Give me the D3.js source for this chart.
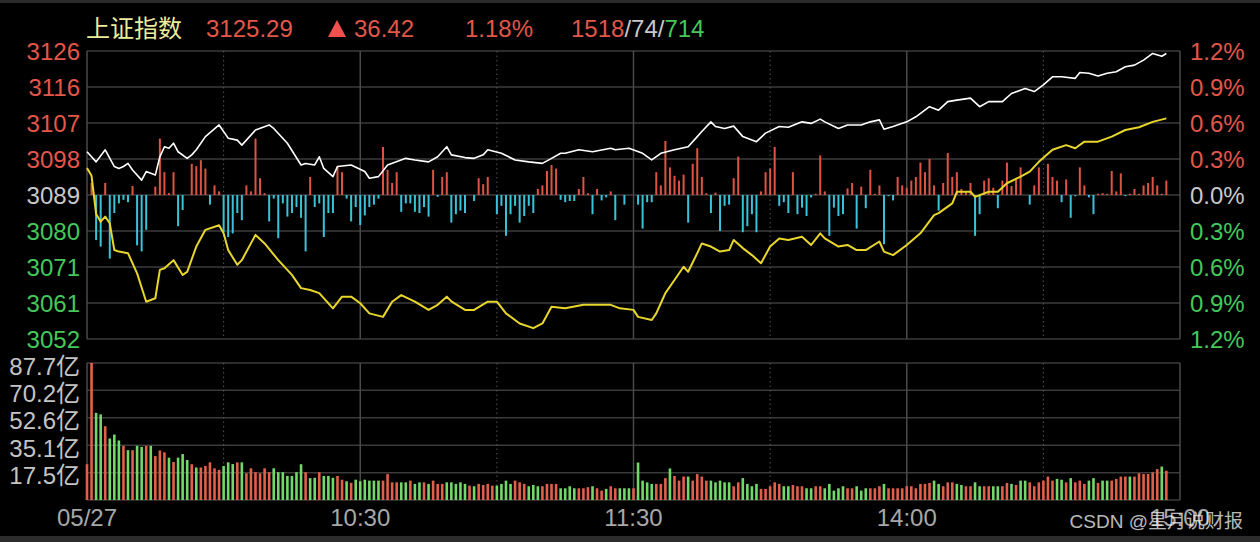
<!DOCTYPE html>
<html>
<head>
<meta charset="utf-8">
<script src="https://cdn.jsdelivr.net/npm/d3@7"></script>
<style>
  html, body { margin: 0; padding: 0; background: #000; }
  #main-vis { width: 1260px; height: 542px; }
  text { font-family: "Liberation Sans", Arial, "Noto Sans CJK SC", sans-serif; }
</style>
</head>
<body>
<div id="main-vis"></div>
<script>
// header numbers
const indexName = '上证指数'
const lastPrice = '3125.29'
const changeAbs = '36.42'
const changePct = '1.18%'
const upCount = '1518'
const flatCount = '74'
const downCount = '714'
const preClose = 3088.87

// axes
const pctTicks = [1.2, 0.9, 0.6, 0.3, 0, -0.3, -0.6, -0.9, -1.2]
const priceLabels = ['3126', '3116', '3107', '3098', '3089', '3080', '3071', '3061', '3052']
const pctLabels = ['1.2%', '0.9%', '0.6%', '0.3%', '0.0%', '0.3%', '0.6%', '0.9%', '1.2%']
const volTicks = [87.7, 70.2, 52.6, 35.1, 17.5]
const volLabels = ['87.7亿', '70.2亿', '52.6亿', '35.1亿', '17.5亿']
const timeTicks = [0, 60, 120, 180, 240]
const timeLabels = ['05/27', '10:30', '11:30', '14:00', '15:00']
const solidMinutes = [60, 120, 180]
const dottedMinutes = [30, 90, 150, 210]

// index line (white): minute since 9:30, price
const priceMinute = [0,1,2,4,6,7,8,9,10,12,13,15,16,17,18,19,20,22,23,24,26,29,31,33,34,37,40,41,44,47,48,50,51,52,54,55,58,61,62,64,66,70,72,75,77,79,80,83,85,87,88,91,94,97,100,102,104,105,108,111,115,116,119,122,124,126,129,132,134,135,137,138,140,142,144,147,149,152,154,157,159,161,162,165,167,170,172,174,175,177,180,182,185,187,189,191,194,196,198,201,203,206,208,210,212,214,217,218,220,222,224,226,228,230,232,234,236,237]
const priceValue = [3100.0,3098.7,3097.4,3100.5,3096.2,3095.7,3096.2,3097.0,3095.3,3092.7,3094.9,3094.0,3098.7,3101.3,3100.9,3102.2,3100.0,3098.3,3099.2,3100.5,3103.9,3106.9,3103.5,3103.0,3101.7,3105.6,3106.9,3106.0,3102.2,3096.6,3097.0,3096.6,3098.7,3095.7,3093.6,3096.2,3096.6,3094.9,3093.2,3093.6,3096.6,3098.3,3097.9,3097.4,3098.7,3101.3,3099.2,3098.5,3098.3,3099.2,3100.5,3099.6,3097.9,3097.4,3097.0,3098.3,3099.6,3099.6,3100.5,3100.0,3100.9,3100.5,3100.9,3099.6,3097.9,3099.6,3100.5,3101.3,3103.9,3105.2,3107.7,3106.5,3106.0,3106.6,3103.9,3102.6,3104.8,3106.5,3106.3,3107.7,3107.3,3108.4,3107.7,3106.0,3106.9,3106.9,3107.7,3108.2,3105.8,3106.5,3107.7,3109.0,3111.6,3110.7,3112.9,3113.3,3113.8,3111.6,3112.9,3112.9,3115.0,3116.3,3115.5,3117.2,3119.3,3119.3,3118.9,3120.4,3120.2,3119.5,3120.2,3120.6,3121.9,3122.3,3123.6,3125.3,3124.6,3125.29]

// unweighted line (yellow)
const avgMinute = [0,1,2,3,4,5,6,7,9,11,13,15,16,17,19,21,22,24,26,29,30,31,33,34,37,39,42,45,47,49,51,54,56,58,60,62,65,67,69,72,75,77,79,80,83,85,88,90,92,95,98,100,102,105,109,112,115,117,120,121,124,125,126,127,129,131,132,134,135,137,139,141,142,144,146,148,150,152,154,157,159,161,162,165,167,169,171,174,175,177,180,183,186,187,190,191,194,195,198,200,202,205,207,209,212,215,217,219,222,225,228,231,234,237]
const avgValue = [3095.8,3093.8,3084.0,3082.0,3083.3,3081.6,3074.7,3074.3,3073.9,3068.7,3061.4,3062.3,3069.6,3070.0,3072.1,3068.3,3069.1,3075.6,3079.9,3081.1,3079.0,3074.7,3070.9,3072.1,3078.6,3076.4,3072.1,3068.3,3064.9,3064.4,3063.6,3059.7,3062.7,3062.7,3061.0,3058.4,3057.5,3061.4,3063.1,3061.4,3059.3,3060.6,3062.7,3061.5,3059.3,3059.3,3061.4,3061.4,3058.4,3055.8,3054.6,3055.8,3060.1,3059.7,3060.6,3060.6,3060.6,3059.7,3059.3,3057.5,3056.7,3058.4,3061.0,3063.6,3067.0,3070.4,3069.1,3073.9,3076.4,3075.6,3074.3,3074.7,3077.3,3075.2,3073.4,3071.3,3075.6,3077.7,3077.3,3078.1,3076.0,3079.0,3077.7,3075.6,3076.0,3074.7,3074.7,3076.9,3074.3,3073.4,3076.0,3079.0,3083.7,3084.2,3086.7,3089.7,3089.7,3088.4,3089.7,3089.7,3091.9,3093.6,3094.9,3097.4,3100.5,3101.7,3100.9,3102.6,3102.6,3103.9,3105.6,3106.3,3107.7,3108.6]

// buy/sell strength bars per minute (100 = height of 1%)
const power = [0,10,-37.5,-43,10,-53,-15,-7,-4,-6,7.5,-42,-47,-29,0,7,47,19,1.5,19,-26,-12.5,0,26,24,29,22,-8,8,3,
  -31,-35,-32,-15,-21,8,3,47,14,1.5,-22,-3,-36,-7,-18,-15,-10,-19,-47,15,-10,-7,-35,-15,-15,24,19,-3,-22,-10,
  -25,-17,-10,-8,-3,40,21,10,19,-14,-7,-7,-14,-15,-10,-18,21,-1.5,15,19,-23,-16,-13,-15,0,-5,14,9,15,0,
  -16,-9,-34,-16,-9,-23,-17.5,-9,-15,5,8,20,25,22,-4,-6,-5,-5,5,15,1.5,-16,5,-4.5,-2,3,-21,0,-8,0,
  0,-8,-28,-6,-6,19,8,45,23,16,12,17,-23,26,39,15,1.5,-15,2,-30,-9,-8,14,32,-31,-26,-16,-31,3,19,
  22,40,-9,-6,-15,19,-16,-10.5,-17.5,-2,1,33,3,-34,-10.5,-17.5,-16,5.5,10,-28,7,-11,21,1,8,-41,-1,-4.5,15,8,
  6,12,15,27,19,30,8,-13,10,35,15,19,5,3,10,-34,-16,12,14,6,-11,12,27,7.5,13,23,0,-8,8,23,
  0,26,15,12,-6,13,-19,-1,23,8,-2,-16,1,1.5,1,20,3,18,-1,1,5,1,8,10,15,8,1,12]

// turnover per minute, 亿
const volume = [22.9,87.7,55.8,54.8,47.2,39.4,41.9,38.1,34.7,31.9,31.9,34.7,34.0,34.7,34.7,28.1,31.7,30.5,27.1,24.3,
  27.1,29.4,25.6,22.9,20.8,20.8,21.8,24.1,20.3,19.3,21.8,24.1,23.0,24.1,24.1,17.1,20.3,17.8,17.1,20.3,
  17.8,20.3,17.8,17.8,15.4,15.4,17.8,22.9,17.8,14.0,14.2,17.8,15.4,15.4,14.2,15.4,13.0,12.0,11.0,13.0,
  12.0,13.0,12.4,12.4,12.4,12.4,16.6,11.3,11.3,11.3,11.3,12.4,10.3,11.3,11.3,10.3,12.4,10.3,10.3,11.3,
  11.3,10.3,11.3,10.3,9.2,8.8,10.3,9.6,10.3,9.2,9.2,10.3,12.4,10.3,12.4,11.3,10.3,8.8,9.6,8.8,
  8.8,10.3,10.3,10.3,7.5,7.5,8.8,7.5,7.5,7.5,8.2,8.8,7.5,6.0,7.1,8.8,7.5,7.5,7.5,7.5,
  7.5,24.0,12.4,11.3,10.3,10.3,10.3,14.0,20.2,15.4,12.4,15.0,15.0,12.4,16.6,15.0,12.4,12.4,11.3,12.4,
  11.3,11.3,8.8,11.3,14.0,10.3,8.8,10.3,7.1,7.1,8.8,11.3,10.3,8.8,8.8,9.6,8.8,8.8,7.5,7.5,
  8.8,8.8,7.5,10.3,6.0,7.5,8.8,7.5,7.5,8.8,6.0,7.5,7.5,7.5,8.8,10.3,7.5,7.5,7.5,7.5,
  8.8,8.8,7.5,10.3,10.3,10.9,12.4,10.3,8.8,11.3,11.3,10.3,9.6,8.8,8.8,11.3,8.8,8.8,8.8,8.8,
  8.8,8.8,10.9,10.3,9.6,12.4,12.4,11.3,8.8,11.3,12.4,15.0,12.4,13.5,13.0,11.3,14.0,11.3,12.4,10.3,
  12.4,14.0,10.9,12.4,12.4,12.4,13.5,15.0,15.0,15.0,15.0,17.1,16.6,16.6,17.7,19.8,21.4,18.7]
// 1 = red (up minute), 0 = green
const volUp = [1,1,0,0,1,0,0,0,1,0,1,0,0,1,0,1,1,1,0,1,0,0,0,1,0,1,1,1,1,1,0,0,0,1,0,1,1,1,1,1,
  1,0,0,0,0,0,0,0,1,0,0,1,0,0,0,1,1,0,1,0,0,0,0,0,0,1,1,1,1,0,0,1,0,0,1,0,1,1,1,0,
  0,0,0,0,1,0,1,1,1,1,0,0,0,0,1,1,1,0,0,0,1,1,1,1,0,0,0,0,1,1,1,0,1,1,0,1,1,0,0,0,
  1,0,0,0,0,1,1,1,0,1,1,1,0,1,1,1,1,0,0,0,0,0,1,1,0,0,0,0,1,1,1,1,1,0,0,1,1,1,0,0,
  1,1,0,0,0,0,0,1,1,0,0,0,1,1,1,0,1,1,1,1,1,1,1,1,1,1,0,0,1,1,1,0,0,1,1,0,0,1,1,0,
  0,1,1,0,1,0,0,1,1,1,1,1,1,0,0,1,0,1,1,1,0,0,1,0,0,1,1,1,1,0,1,1,1,1,1,1,0,1]

window.onload = setup

function setup () {
    const div = d3.select('#main-vis')
    const left = 87, right = 1180

    const red = '#e2574a', green = '#45c85a', grey = '#c9c9c9'

    const svg = d3.create('svg')
        .attr('width', 1260)
        .attr('height', 542)
        .style('display', 'block')
        .style('background', '#000')

    const x = d3.scaleLinear().domain([0, 240]).range([left, right])
    const yPct = d3.scaleLinear().domain([-1.2, 1.2]).range([339, 51])
    const yPrice = v => yPct((v / preClose - 1) * 100)
    const yPow = d3.scaleLinear().domain([-120, 120]).range([339, 51])
    const yVol = d3.scaleLinear().domain([0, 87.7]).range([500, 363])

    // frame bands top/bottom
    svg.append('rect').attr('x', 0).attr('y', 0).attr('width', 1260).attr('height', 3).attr('fill', '#2a2a2a')
    svg.append('rect').attr('x', 0).attr('y', 536).attr('width', 1260).attr('height', 6).attr('fill', '#2c2c2c')

    const grid = svg.append('g').attr('stroke', '#3b3b3b').attr('stroke-width', 1.5)
    grid.selectAll('.hp').data(pctTicks).join('line')
        .attr('x1', left).attr('x2', right)
        .attr('y1', d => yPct(d)).attr('y2', d => yPct(d))
    grid.selectAll('.hv').data([0].concat(volTicks)).join('line')
        .attr('x1', left).attr('x2', right)
        .attr('y1', d => yVol(d)).attr('y2', d => yVol(d))

    // vertical lines through both panels
    const panels = [[yPct(1.2), yPct(-1.2)], [yVol(87.7), yVol(0)]]
    panels.forEach(([y0, y1]) => {
        svg.append('g').attr('stroke', '#4a4a4a').attr('stroke-width', 1.5)
            .selectAll('line').data([0, 240].concat(solidMinutes)).join('line')
            .attr('x1', d => x(d)).attr('x2', d => x(d)).attr('y1', y0).attr('y2', y1)
        svg.append('g').attr('stroke', '#555').attr('stroke-width', 1).attr('stroke-dasharray', '1.5,3')
            .selectAll('line').data(dottedMinutes).join('line')
            .attr('x1', d => x(d)).attr('x2', d => x(d)).attr('y1', y0).attr('y2', y1)
    })

    // strength bars
    svg.append('g').selectAll('rect').data(power).join('rect')
        .attr('x', (d, i) => x(i) - 1)
        .attr('width', 2)
        .attr('y', d => yPow(Math.max(0, d)))
        .attr('height', d => Math.abs(yPow(d) - yPow(0)))
        .attr('fill', d => d >= 0 ? '#dd5443' : '#38c3d8')

    // volume bars
    svg.append('g').selectAll('rect').data(volume).join('rect')
        .attr('x', (d, i) => x(i) - 1.3)
        .attr('width', 2.6)
        .attr('y', d => yVol(d))
        .attr('height', d => yVol(0) - yVol(d))
        .attr('fill', (d, i) => volUp[i] ? '#e0604b' : '#72d86a')

    const line = d3.line().x(d => x(d[0])).y(d => yPrice(d[1]))
    svg.append('path')
        .attr('d', line(d3.zip(avgMinute, avgValue)))
        .attr('fill', 'none').attr('stroke', '#e8d62c').attr('stroke-width', 2)
        .attr('stroke-linejoin', 'round')
    svg.append('path')
        .attr('d', line(d3.zip(priceMinute, priceValue)))
        .attr('fill', 'none').attr('stroke', '#ffffff').attr('stroke-width', 1.6)
        .attr('stroke-linejoin', 'round')

    // price axis labels
    const pctColor = d => d > 0 ? red : d < 0 ? green : grey
    svg.append('g').selectAll('text').data(pctTicks).join('text')
        .attr('x', 80).attr('y', d => yPct(d) + 8.5)
        .attr('text-anchor', 'end').attr('font-size', 24)
        .attr('fill', pctColor)
        .text((d, i) => priceLabels[i])
    svg.append('g').selectAll('text').data(pctTicks).join('text')
        .attr('x', 1190).attr('y', d => yPct(d) + 8.5)
        .attr('font-size', 24)
        .attr('fill', pctColor)
        .text((d, i) => pctLabels[i])

    // volume labels
    svg.append('g').selectAll('text').data(volTicks).join('text')
        .attr('x', 80).attr('y', d => yVol(d) + 11.5)
        .attr('text-anchor', 'end').attr('font-size', 24)
        .attr('fill', '#c4c4c4')
        .text((d, i) => volLabels[i])

    // time labels
    svg.append('g').selectAll('text').data(timeTicks).join('text')
        .attr('x', d => x(d)).attr('y', 526)
        .attr('text-anchor', 'middle').attr('font-size', 24)
        .attr('fill', '#a8a8a8')
        .text((d, i) => timeLabels[i])

    // header
    const head = svg.append('g').attr('font-size', 24)
    head.append('text').attr('x', 86).attr('y', 37)
        .style('font-family', '"Noto Sans CJK SC", sans-serif')
        .attr('fill', '#ecec9c').text(indexName)
    head.append('text').attr('x', 206).attr('y', 37).attr('fill', red).text(lastPrice)
    head.append('path').attr('d', 'M328,37L346,37L337,20Z').attr('fill', '#f0504e')
    head.append('text').attr('x', 354).attr('y', 37).attr('fill', red).text(changeAbs)
    head.append('text').attr('x', 465).attr('y', 37).attr('fill', red).text(changePct)
    const breadth = head.append('text').attr('x', 571).attr('y', 37)
    breadth.append('tspan').attr('fill', red).text(upCount)
    breadth.append('tspan').attr('fill', grey).text('/' + flatCount + '/')
    breadth.append('tspan').attr('fill', green).text(downCount)

    // watermark
    svg.append('text').attr('x', 1243).attr('y', 528)
        .attr('text-anchor', 'end').attr('font-size', 19)
        .attr('fill', 'rgba(235,235,235,0.8)')
        .text('CSDN @星月说财报')

    div.node().appendChild(svg.node())
}
</script>
</body>
</html>
